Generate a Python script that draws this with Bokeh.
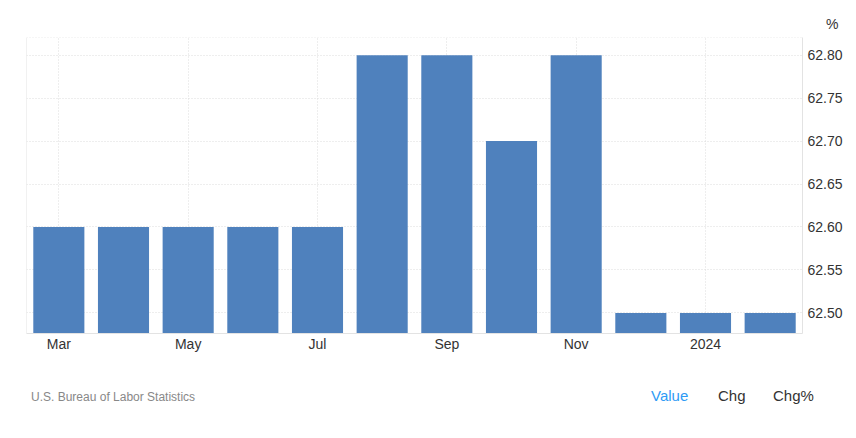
from bokeh.plotting import figure
from bokeh.layouts import column
from bokeh.models import (FixedTicker, LinearAxis, Range1d, Span, Title, Div,
                          NumeralTickFormatter, ColumnDataSource)
from bokeh.embed import file_html
from bokeh.resources import INLINE

# ---- data ----
months = ["Mar", "Apr", "May", "Jun", "Jul", "Aug", "Sep", "Oct", "Nov", "Dec", "Jan", "Feb"]
values = [62.6, 62.6, 62.6, 62.6, 62.6, 62.8, 62.8, 62.7, 62.8, 62.5, 62.5, 62.5]
x_tick_pos = [0, 2, 4, 6, 8, 10]
x_tick_labels = ["Mar", "May", "Jul", "Sep", "Nov", "2024"]
y_ticks = [62.50, 62.55, 62.60, 62.65, 62.70, 62.75, 62.80]
y_min, y_max = 62.476, 62.8206
unit_label = "%"
source_text = "U.S. Bureau of Labor Statistics"
tabs = ["Value", "Chg", "Chg%"]

FONT = "Liberation Sans"
BAR = "#4f81bd"
GRID = "#dcdcdc"
AXIS = "#e3e3e3"
W = 848
H_CHART = 358
H_FOOT = 430 - H_CHART
FL, FR = 26, 802  # frame edges in canvas pixels

src = ColumnDataSource(dict(x=list(range(len(months))), top=values, m=months))

p = figure(width=W, height=H_CHART, output_backend="svg", toolbar_location=None,
           x_range=Range1d(-0.5, len(months) - 0.5), y_range=Range1d(y_min, y_max),
           y_axis_location=None, x_axis_location=None,
           min_border_left=FL, min_border_right=W - FR, min_border_top=37, min_border_bottom=25)
p.outline_line_color = None
p.background_fill_color = "white"
p.border_fill_color = "white"

p.vbar(x="x", top="top", bottom=y_min, width=0.79, source=src,
       fill_color=BAR, line_color=None)

# axes
xaxis = LinearAxis(ticker=FixedTicker(ticks=x_tick_pos))
xaxis.major_label_overrides = {t: l for t, l in zip(x_tick_pos, x_tick_labels)}
xaxis.axis_line_color = AXIS
xaxis.major_tick_line_color = None
xaxis.minor_tick_line_color = None
xaxis.major_tick_out = 0
xaxis.major_tick_in = 0
xaxis.major_label_text_font = FONT
xaxis.major_label_text_font_size = "14px"
xaxis.major_label_text_color = "#333333"
xaxis.major_label_standoff = 2
p.add_layout(xaxis, "below")

yaxis = LinearAxis(ticker=FixedTicker(ticks=y_ticks), formatter=NumeralTickFormatter(format="0.00"))
yaxis.axis_line_color = AXIS
yaxis.major_tick_line_color = None
yaxis.minor_tick_line_color = None
yaxis.major_tick_out = 0
yaxis.major_tick_in = 0
yaxis.major_label_text_font = FONT
yaxis.major_label_text_font_size = "14px"
yaxis.major_label_text_color = "#333333"
yaxis.major_label_standoff = 5
p.add_layout(yaxis, "right")

p.xgrid.ticker = FixedTicker(ticks=x_tick_pos)
p.ygrid.ticker = FixedTicker(ticks=y_ticks)
for g in (p.xgrid[0], p.ygrid[0]):
    g.grid_line_color = GRID
    g.grid_line_dash = "1 2"
    g.grid_line_width = 1

# frame edges
p.add_layout(Span(location=-0.5, dimension="height", line_color=AXIS, line_width=1))
p.add_layout(Span(location=y_max, dimension="width", line_color=GRID, line_dash="1 2", line_width=1))

# unit label above the value axis
p.add_layout(Title(text=unit_label, align="right", offset=-36, standoff=11,
                   text_font=FONT, text_font_size="14px", text_color="#333333",
                   text_font_style="normal"), "above")

# footer: source and tabs as real HTML text
tab_x = [651, 718, 773]
tab_colors = ["#2e9bf5", "#333333", "#333333"]
spans = [f'<span style="position:absolute;left:31px;top:31px;font-size:12px;line-height:16px;'
         f'color:#888888;white-space:nowrap;">{source_text}</span>']
for t, tx, tc in zip(tabs, tab_x, tab_colors):
    spans.append(f'<span style="position:absolute;left:{tx}px;top:29px;font-size:15px;'
                 f'line-height:18px;color:{tc};white-space:nowrap;">{t}</span>')
footer = Div(text=f'<div style="position:relative;width:{W}px;height:{H_FOOT}px;'
                  f'font-family:\'{FONT}\',Arial,sans-serif;">' + "".join(spans) + '</div>',
             width=W, height=H_FOOT, margin=0)

layout = column(p, footer, spacing=0)
open("out.html", "w").write(file_html(layout, INLINE))
